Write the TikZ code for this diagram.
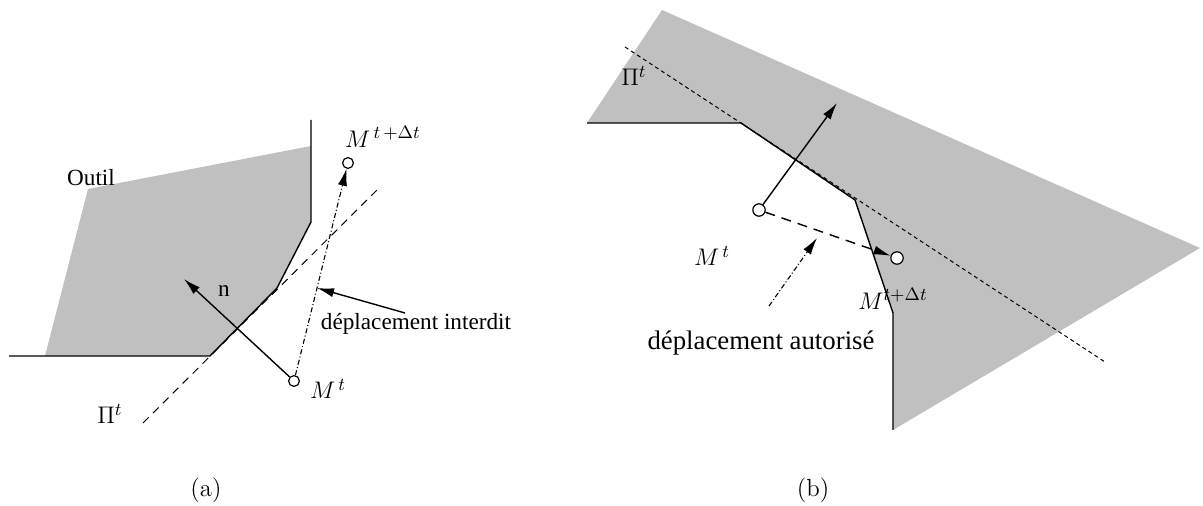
\documentclass[tikz,border=0pt]{standalone}
\usepackage{fontspec}
\newfontfamily\tnr{Liberation Serif}
\usetikzlibrary{arrows.meta}
\definecolor{toolgray}{RGB}{192,192,192}
\begin{document}
\begin{tikzpicture}[x=0.5pt,y=-0.5pt,
  edge/.style={line width=0.7pt},
  tip/.style={-{Latex[length=8.5pt,width=4.6pt]}},
  ptnode/.style={circle,draw,line width=0.6pt,fill=white,inner sep=0pt,minimum size=5.4pt},
  txt/.style={font=\tnr\fontsize{11.6}{14}\selectfont,inner sep=0pt},
  bigtxt/.style={font=\tnr\fontsize{13.4}{16}\selectfont,inner sep=0pt},
  mth/.style={font=\fontsize{13}{16}\selectfont,inner sep=0pt},
  capt/.style={font=\fontsize{12.4}{15}\selectfont,inner sep=0pt},
  planeA/.style={line width=0.5pt,dash pattern=on 4pt off 3pt},
  planeB/.style={line width=0.5pt,dash pattern=on 2pt off 1.6pt},
  dashdot/.style={line width=0.55pt,dash pattern=on 2.5pt off 1.2pt on 0.5pt off 1.2pt},
  longdash/.style={dash pattern=on 5pt off 3.5pt}
]
\useasboundingbox (0,0) rectangle (1203,506);

% ---------------- panel (a) ----------------
\fill[toolgray] (45,356) -- (88,189) -- (311,146) -- (311,222) -- (278,287) -- (276,290) -- (210,356) -- cycle;
\draw[edge] (9,356) -- (210,356) -- (277,288) -- (311,222) -- (311,120);

\coordinate (pa1) at (143,423);
\coordinate (pa2) at (377,190);
\draw[planeA] (pa1) -- (pa2);
\node[mth] (pilabA) at (110,414) {$\Pi^t$};

\node[txt] (outil) at (91,178) {Outil};

\node[ptnode] (mA) at (294,381) {};
\node[ptnode] (mA2) at (348,163) {};
\coordinate (nA) at (184,279);
\draw[edge,tip] (mA) -- (nA);
\node[txt] (nlab) at (224,291) {n};
\draw[dashdot,tip] (mA) -- (mA2);
\node[mth] (mAlab) at (328,389) {$M^{\,t}$};
\node[mth] (mA2lab) at (383,137) {$M^{\,t\,+\Delta t}$};

\node[txt] (interdit) at (416,324) {déplacement interdit};
\coordinate (intfrom) at (405,313);
\coordinate (inttip) at (317,288);
\draw[edge,tip] (intfrom) -- (inttip);

% ---------------- panel (b) ----------------
\fill[toolgray] (662,10) -- (1200,248) -- (893,430) -- (893,313) -- (855,200) -- (741,123) -- (587,123) -- cycle;
\draw[edge] (587,123) -- (741,123) -- (855,200) -- (893,313) -- (893,430);

\coordinate (pb1) at (625,47);
\coordinate (pb2) at (1105,362);
\draw[planeB] (pb1) -- (pb2);
\node[mth] (pilabB) at (634,76) {$\Pi^t$};

\node[ptnode,minimum size=6.2pt] (mB) at (759,210) {};
\node[ptnode,minimum size=6.2pt] (mB2) at (897,258) {};
\coordinate (nB) at (837,103);
\draw[edge,tip] (mB) -- (nB);
\draw[edge,longdash,tip] (mB) -- (mB2);
\node[mth] (mBlab) at (712,256) {$M^{\,t}$};
\node[mth] (mB2lab) at (893,299) {$M^{t+\Delta t}$};

\coordinate (autfrom) at (769,306);
\coordinate (auttip) at (817,238);
\draw[dashdot,tip] (autfrom) -- (auttip);
\node[bigtxt] (autorise) at (761,343) {déplacement autorisé};

% ---------------- captions ----------------
\node[capt] (capa) at (206,490) {(a)};
\node[capt] (capb) at (813,490) {(b)};
\end{tikzpicture}
\end{document}
